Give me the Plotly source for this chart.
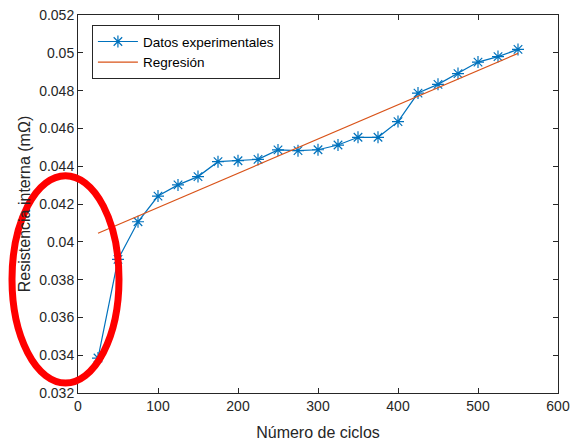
import plotly.graph_objects as go

# Número de ciclos y resistencia interna medida
ciclos = [25, 50, 75, 100, 125, 150, 175, 200, 225, 250, 275, 300, 325, 350,
          375, 400, 425, 450, 475, 500, 525, 550]
resistencia = [0.03385, 0.03907, 0.04106, 0.04242, 0.04301, 0.04345, 0.04424,
               0.04429, 0.04436, 0.04486, 0.04482, 0.04487, 0.04512, 0.04553,
               0.04553, 0.04636, 0.04787, 0.04833, 0.04890, 0.04951, 0.04980,
               0.05018]

# Recta de regresión evaluada en los extremos del ensayo
ciclos_reg = [25, 550]
resistencia_reg = [0.04045, 0.04997]

x_ticks = [0, 100, 200, 300, 400, 500, 600]
y_ticks = [0.032, 0.034, 0.036, 0.038, 0.040, 0.042, 0.044, 0.046, 0.048, 0.050, 0.052]
y_ticktext = ["0.032", "0.034", "0.036", "0.038", "0.04", "0.042", "0.044",
              "0.046", "0.048", "0.05", "0.052"]

AZUL = "#0072BD"
NARANJA = "#D95319"
GRIS = "#262626"
FUENTE = "Liberation Sans, Arial, sans-serif"

fig = go.Figure()
fig.add_trace(go.Scatter(
    x=ciclos, y=resistencia, mode="lines+markers",
    name="Datos experimentales",
    line=dict(color=AZUL, width=1.2),
    marker=dict(symbol="asterisk-open", size=10, color=AZUL,
                line=dict(color=AZUL, width=1.2)),
))
fig.add_trace(go.Scatter(
    x=ciclos_reg, y=resistencia_reg, mode="lines", name="Regresión",
    line=dict(color=NARANJA, width=1.2),
))

eje = dict(
    showline=True, linecolor=GRIS, linewidth=1, mirror="ticks",
    ticks="inside", ticklen=5, tickcolor=GRIS, tickwidth=1,
    showgrid=False, zeroline=False, automargin=False,
    tickfont=dict(family=FUENTE, size=14, color=GRIS),
)

fig.update_layout(
    width=571, height=441,
    margin=dict(l=78, r=13, t=15, b=48),
    plot_bgcolor="white", paper_bgcolor="white",
    font=dict(family=FUENTE, color=GRIS),
    xaxis=dict(eje, range=[0, 600], tickvals=x_ticks,
               title=dict(text="Número de ciclos",
                          font=dict(family=FUENTE, size=16, color=GRIS))),
    yaxis=dict(eje, range=[0.032, 0.052], tickvals=y_ticks, ticktext=y_ticktext,
               title=dict(text="Resistencia interna (mΩ)", standoff=4,
                          font=dict(family=FUENTE, size=16, color=GRIS))),
    legend=dict(x=0.029, y=0.973, xanchor="left", yanchor="top",
                bgcolor="white", bordercolor=GRIS, borderwidth=1,
                font=dict(family=FUENTE, size=13.5, color="black"),
                tracegroupgap=0, itemwidth=40),
    showlegend=True,
)

# Elipse roja que resalta los primeros ciclos
fig.add_shape(type="circle", xref="paper", yref="paper",
              x0=-0.1375, x1=0.0854, y0=0.0265, y1=0.575,
              line=dict(color="#FF0000", width=7), layer="above")

fig.write_html("out.html")
